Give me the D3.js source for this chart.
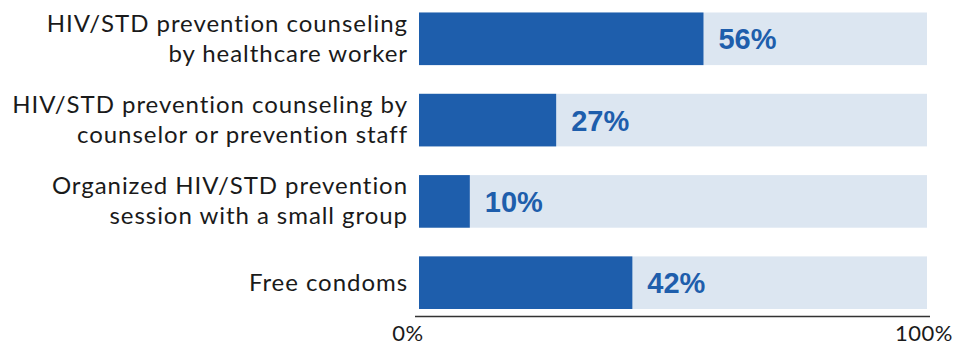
<!DOCTYPE html>
<html lang="en">
<head>
<meta charset="UTF-8">
<title>HIV/STD prevention services</title>
<script src="https://cdn.jsdelivr.net/npm/d3@7"></script>
<style>
    html, body { margin: 0; padding: 0; background: #fff; }
    .label { font-family: Lato, sans-serif; font-size: 24px; fill: #1a1a1a; letter-spacing: 0.95px; font-variant-ligatures: none; }
    .value { font-family: "Liberation Sans", Arial, sans-serif; font-weight: bold; font-size: 29px; fill: #1e5eac; }
    .tick-label { font-family: Lato, sans-serif; font-size: 22px; fill: #1a1a1a; letter-spacing: 0.5px; }
</style>
</head>
<body>
<div id="chart"></div>
<script>
    const categories = [
        ["HIV/STD prevention counseling", "by healthcare worker"],
        ["HIV/STD prevention counseling by", "counselor or prevention staff"],
        ["Organized HIV/STD prevention", "session with a small group"],
        ["Free condoms"]
    ]
    const values = [56, 27, 10, 42]
    const tickLabels = ["0%", "100%"]
    const tickValues = [0, 100]

    const width = 956, height = 345
    const svg = d3.select('#chart').append('svg').attr('width', width).attr('height', height)

    const x = d3.scaleLinear().domain([0, 100]).range([419, 927])
    const y = d3.scaleBand().domain(d3.range(categories.length)).range([12.5, 309]).paddingInner(0.353)

    const rows = svg.selectAll('g.row').data(values).enter()
        .append('g').classed('row', true)

    // light track
    rows.append('rect')
        .attr('x', x(0))
        .attr('y', (d, i) => y(i))
        .attr('width', x(100) - x(0))
        .attr('height', y.bandwidth())
        .attr('fill', '#dce6f1')

    // value bar
    rows.append('rect')
        .attr('x', x(0))
        .attr('y', (d, i) => y(i))
        .attr('width', d => x(d) - x(0))
        .attr('height', y.bandwidth())
        .attr('fill', '#1e5eac')

    rows.append('text')
        .classed('value', true)
        .attr('x', d => x(d) + 15)
        .attr('y', (d, i) => y(i) + y.bandwidth() / 2 + 10.5)
        .text(d => d + '%')

    // category labels
    rows.each(function (d, i) {
        const lines = categories[i]
        const c = y(i) + y.bandwidth() / 2
        const t = d3.select(this).append('text')
            .classed('label', true)
            .attr('text-anchor', 'end')
        lines.forEach((line, j) => {
            const base = lines.length === 1 ? c + 8.5 : c - 7 + j * 30
            t.append('tspan').attr('x', 408).attr('y', base).text(line)
        })
    })

    // axis
    svg.append('line')
        .attr('x1', x(0) - 4).attr('x2', x(100) + 3)
        .attr('y1', 316.5).attr('y2', 316.5)
        .attr('stroke', '#333').attr('stroke-width', 1.5)

    svg.selectAll('text.tick-label').data(tickValues).enter()
        .append('text')
        .classed('tick-label', true)
        .attr('text-anchor', (d, i) => i === 0 ? 'middle' : 'end')
        .attr('x', (d, i) => i === 0 ? x(d) - 11 : x(d) + 26)
        .attr('y', 341)
        .text((d, i) => tickLabels[i])
</script>
</body>
</html>
